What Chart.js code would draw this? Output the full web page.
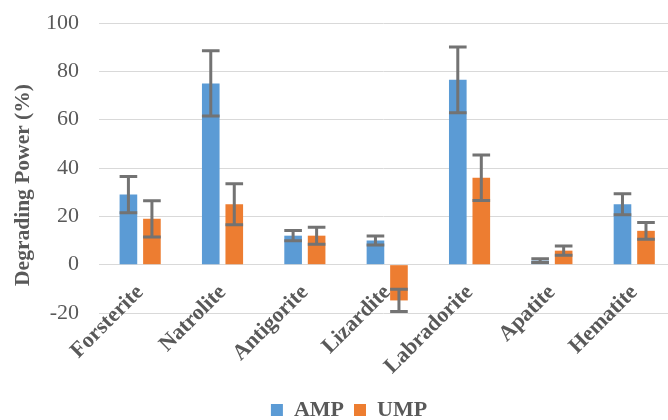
<!DOCTYPE html>
<html><head><meta charset="utf-8">
<script src="https://cdn.jsdelivr.net/npm/chart.js@4/dist/chart.umd.min.js"></script>
<style>html,body{margin:0;padding:0;background:#fff}#wrap{width:668px;height:420px}</style>
</head><body><div id="wrap"><canvas id="c" width="668" height="420"></canvas></div>
<script>
const categories = ['Forsterite', 'Natrolite', 'Antigorite', 'Lizardite', 'Labradorite', 'Apatite', 'Hematite'];
const ampValues = [29, 75, 12, 10, 76.5, 1.7, 25];
const umpValues = [19, 25, 12, -14.8, 36, 5.8, 14];
const ampErrors = [7.5, 13.5, 2.1, 1.9, 13.6, 0.8, 4.3];
const umpErrors = [7.5, 8.5, 3.5, 4.6, 9.4, 1.9, 3.5];
const yMin = -20, yMax = 100, yStep = 20;
const yTitleText = 'Degrading Power (%)';

const FONT = "'Liberation Serif', 'Times New Roman', serif";
const TEXT = '#595959';

const errorBars = {
  id: 'errorBars',
  afterDatasetsDraw(chart) {
    const ctx = chart.ctx, y = chart.scales.y;
    chart.data.datasets.forEach((ds, i) => {
      const meta = chart.getDatasetMeta(i);
      meta.data.forEach((bar, j) => {
        const v = ds.data[j].y, e = ds.errors[j];
        const top = y.getPixelForValue(v + e), bot = y.getPixelForValue(v - e);
        const half = bar.width / 2;
        ctx.save();
        ctx.strokeStyle = '#737373';
        ctx.lineWidth = 3;
        ctx.beginPath();
        ctx.moveTo(bar.x, top); ctx.lineTo(bar.x, bot);
        ctx.moveTo(bar.x - half, top); ctx.lineTo(bar.x + half, top);
        ctx.moveTo(bar.x - half, bot); ctx.lineTo(bar.x + half, bot);
        ctx.stroke();
        ctx.restore();
      });
    });
  }
};

// y-axis title, drawn beside the y scale (Excel centres it slightly lower than the plot middle)
const yAxisTitle = {
  id: 'yAxisTitle',
  afterDraw(chart) {
    const {ctx, chartArea} = chart;
    ctx.save();
    ctx.translate(chartArea.left - 76, (chartArea.top + chartArea.bottom) / 2 + 17);
    ctx.rotate(-Math.PI / 2);
    ctx.font = "bold 21.5px " + FONT;
    ctx.fillStyle = TEXT;
    ctx.textAlign = 'center';
    ctx.textBaseline = 'middle';
    ctx.fillText(yTitleText, 0, 0);
    ctx.restore();
  }
};

const toPoints = arr => arr.map((v, i) => ({x: i, y: v}));

new Chart(document.getElementById('c'), {
  type: 'bar',
  data: {
    datasets: [
      {label: 'AMP', data: toPoints(ampValues), errors: ampErrors, backgroundColor: '#5B9BD5', borderWidth: 0},
      {label: 'UMP', data: toPoints(umpValues), errors: umpErrors, backgroundColor: '#ED7D31', borderWidth: 0}
    ]
  },
  options: {
    responsive: false,
    animation: false,
    devicePixelRatio: 1,
    categoryPercentage: 0.571,
    barPercentage: 0.75,
    layout: {padding: {left: 30, right: 0, top: 23, bottom: -11}},
    plugins: {
      tooltip: {enabled: false},
      legend: {
        position: 'bottom',
        title: {display: true, text: '', font: {size: 10}, padding: {top: 64, bottom: 0}},
        labels: {
          font: {family: FONT, size: 22, weight: 'bold'},
          color: TEXT, boxWidth: 12, boxHeight: 12, padding: 10
        }
      }
    },
    scales: {
      x: {
        type: 'linear',
        position: {y: 0},
        offset: false,
        min: -0.5,
        max: 6.41,
        grid: {display: false, drawTicks: false},
        border: {display: false},
        afterBuildTicks: s => { s.ticks = categories.map((_, i) => ({value: i})); },
        ticks: {
          autoSkip: false,
          minRotation: 45, maxRotation: 45,
          padding: 15,
          color: TEXT,
          font: {family: FONT, size: 22, weight: 'bold'},
          callback: v => categories[v]
        }
      },
      y: {
        min: yMin, max: yMax,
        afterFit: s => { s.width = 69; },
        grid: {color: '#d9d9d9', lineWidth: 1, drawTicks: true, tickLength: 12, tickColor: 'rgba(0,0,0,0)'},
        border: {display: false},
        ticks: {stepSize: yStep, padding: 8, color: TEXT, font: {family: FONT, size: 22}},
        title: {display: false, text: yTitleText}
      }
    }
  },
  plugins: [errorBars, yAxisTitle]
});
</script>
</body></html>
